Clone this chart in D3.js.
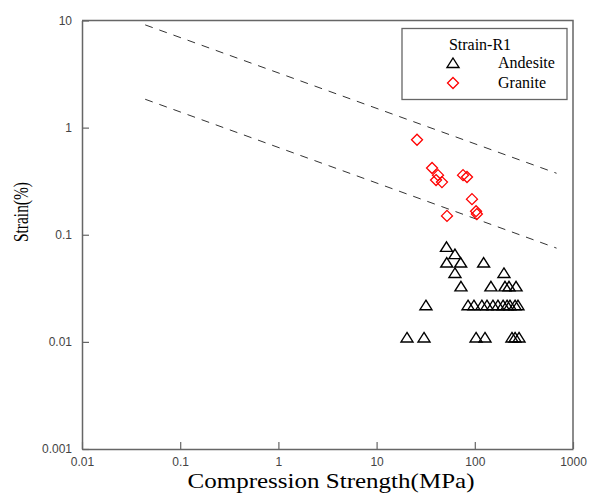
<!DOCTYPE html>
<html>
<head>
<meta charset="utf-8">
<script src="https://cdn.jsdelivr.net/npm/d3@7"></script>
<style>
  body { margin: 0; background: #fff; }
  svg { display: block; }
</style>
</head>
<body>
<svg id="chart" width="591" height="493"></svg>
<script>
// strain levels are read in steps of 0.011 (%)
var andesiteX = [20.4, 30.4, 103, 127, 239, 257, 282,
                 31.8, 85.3, 98, 118, 133, 153, 172, 194, 213, 228, 257, 275,
                 72.3, 146, 203, 223, 263,
                 62.8, 198,
                 51.8, 71.8, 123,
                 62.8,
                 51.5];
var andesiteY = [0.011, 0.011, 0.011, 0.011, 0.011, 0.011, 0.011,
                 0.022, 0.022, 0.022, 0.022, 0.022, 0.022, 0.022, 0.022, 0.022, 0.022, 0.022, 0.022,
                 0.033, 0.033, 0.033, 0.033, 0.033,
                 0.044, 0.044,
                 0.055, 0.055, 0.055,
                 0.066,
                 0.077];
var graniteX = [25.8, 36.7, 42.2, 40.3, 46.3, 75.9, 83.3, 93.6, 103, 105, 52.1];
var graniteY = [0.77, 0.42, 0.36, 0.324, 0.31, 0.36, 0.346, 0.215, 0.166, 0.156, 0.15];

// dashed bounds (straight lines on log-log)
var boundX = [0.044, 680];
var upperY = [9.1, 0.375];
var lowerY = [1.84, 0.075];

var xTicks = [0.01, 0.1, 1, 10, 100, 1000];
var xTickLabels = ["0.01", "0.1", "1", "10", "100", "1000"];
var yTicks = [0.001, 0.01, 0.1, 1, 10];
var yTickLabels = ["0.001", "0.01", "0.1", "1", "10"];

var svg = d3.select("#chart");
var plotLeft = 82, plotRight = 573, plotTop = 20.5, plotBottom = 449;

var x = d3.scaleLog().domain([0.01, 1000]).range([plotLeft, plotRight]);
var y = d3.scaleLog().domain([0.001, 10]).range([plotBottom, plotTop]);

var axisColor = "#666";

// frame top and right
svg.append("path")
    .attr("d", "M" + plotLeft + "," + plotTop + "H" + plotRight + "V" + plotBottom)
    .attr("fill", "none")
    .attr("stroke", axisColor)
    .attr("stroke-width", 1.5);

var xAxis = svg.append("g")
    .attr("transform", "translate(0," + plotBottom + ")")
    .call(d3.axisBottom(x)
        .tickValues(xTicks)
        .tickFormat(function(d, i) { return xTickLabels[i]; })
        .tickSizeInner(-7)
        .tickSizeOuter(0)
        .tickPadding(8));

var yAxis = svg.append("g")
    .attr("transform", "translate(" + plotLeft + ",0)")
    .call(d3.axisLeft(y)
        .tickValues(yTicks)
        .tickFormat(function(d, i) { return yTickLabels[i]; })
        .tickSizeInner(-7)
        .tickSizeOuter(0)
        .tickPadding(10));

[xAxis, yAxis].forEach(function(g) {
    g.select(".domain").attr("stroke", axisColor).attr("stroke-width", 1.5);
    g.selectAll(".tick line").attr("stroke", axisColor).attr("stroke-width", 1.2);
    g.selectAll(".tick text")
        .attr("fill", "#444")
        .style("font-family", "'Liberation Sans', Arial, sans-serif")
        .style("font-size", "12px");
});

// dashed lines
var line = d3.line()
    .x(function(d) { return x(d[0]); })
    .y(function(d) { return y(d[1]); });

[upperY, lowerY].forEach(function(ys) {
    svg.append("path")
        .datum(boundX.map(function(v, i) { return [v, ys[i]]; }))
        .attr("d", line)
        .attr("fill", "none")
        .attr("stroke", "#333")
        .attr("stroke-width", 1)
        .attr("stroke-dasharray", "8,7");
});

var triPath = "M0,-5L6,4.5L-6,4.5Z";
var diaPath = "M0,-5.5L5.5,0L0,5.5L-5.5,0Z";

svg.append("g").selectAll("path")
    .data(andesiteX.map(function(v, i) { return [v, andesiteY[i]]; }))
    .enter()
    .append("path")
    .attr("d", triPath)
    .attr("transform", function(d) { return "translate(" + x(d[0]) + "," + y(d[1]) + ")"; })
    .attr("fill", "none")
    .attr("stroke", "#000")
    .attr("stroke-width", 1.4);

svg.append("g").selectAll("path")
    .data(graniteX.map(function(v, i) { return [v, graniteY[i]]; }))
    .enter()
    .append("path")
    .attr("d", diaPath)
    .attr("transform", function(d) { return "translate(" + x(d[0]) + "," + y(d[1]) + ")"; })
    .attr("fill", "none")
    .attr("stroke", "#f00")
    .attr("stroke-width", 1.3);

// legend
var serif = "'Liberation Serif', 'Times New Roman', serif";
var legend = svg.append("g");
legend.append("rect")
    .attr("x", 402).attr("y", 28.5)
    .attr("width", 165).attr("height", 71)
    .attr("fill", "#fff")
    .attr("stroke", axisColor)
    .attr("stroke-width", 1.3);
legend.append("text")
    .attr("x", 480).attr("y", 50)
    .attr("text-anchor", "middle")
    .style("font-family", serif).style("font-size", "16px")
    .text("Strain-R1");
legend.append("path").attr("d", triPath)
    .attr("transform", "translate(453,63)")
    .attr("fill", "none").attr("stroke", "#000").attr("stroke-width", 1.4);
legend.append("text")
    .attr("x", 498).attr("y", 68)
    .style("font-family", serif).style("font-size", "16px")
    .text("Andesite");
legend.append("path").attr("d", diaPath)
    .attr("transform", "translate(453,83)")
    .attr("fill", "none").attr("stroke", "#f00").attr("stroke-width", 1.3);
legend.append("text")
    .attr("x", 498).attr("y", 88)
    .style("font-family", serif).style("font-size", "16px")
    .text("Granite");

// axis titles
svg.append("text")
    .attr("x", 331).attr("y", 488)
    .attr("text-anchor", "middle")
    .attr("textLength", 287)
    .attr("lengthAdjust", "spacingAndGlyphs")
    .style("font-family", serif).style("font-size", "22px")
    .text("Compression Strength(MPa)");

svg.append("text")
    .attr("transform", "translate(28,212) rotate(-90)")
    .attr("text-anchor", "middle")
    .attr("textLength", 60)
    .attr("lengthAdjust", "spacingAndGlyphs")
    .style("font-family", serif).style("font-size", "20px")
    .text("Strain(%)");
</script>
</body>
</html>
